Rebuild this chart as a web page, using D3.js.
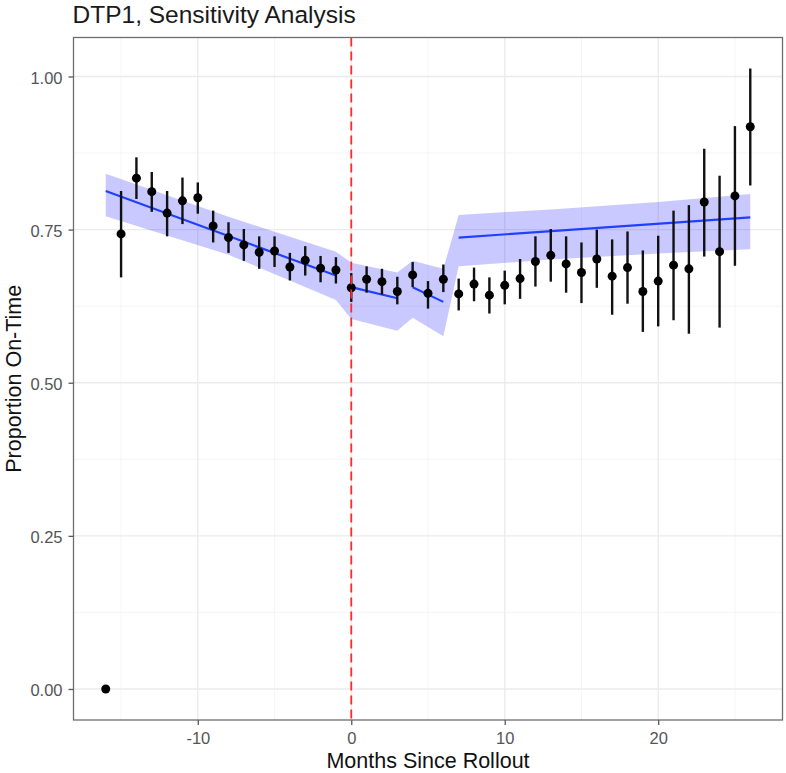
<!DOCTYPE html>
<html><head><meta charset="utf-8">
<script src="https://cdn.jsdelivr.net/npm/d3@7/dist/d3.min.js"></script>
<style>
body{margin:0;background:#fff}
svg{display:block}
text{font-family:"Liberation Sans",Arial,Helvetica,sans-serif}
</style>
</head><body>
<svg id="chart" width="786" height="773"></svg>
<script>
// ---- data ----
const months = [-16,-15,-14,-13,-12,-11,-10,-9,-8,-7,-6,-5,-4,-3,-2,-1,0,1,2,3,4,5,6,7,8,9,10,11,12,13,14,15,16,17,18,19,20,21,22,23,24,25,26];
const estimate = [0,0.743,0.834,0.812,0.777,0.797,0.802,0.756,0.737,0.725,0.713,0.715,0.689,0.700,0.687,0.684,0.655,0.669,0.665,0.649,0.676,0.646,0.669,0.645,0.661,0.643,0.659,0.670,0.698,0.708,0.694,0.680,0.702,0.674,0.688,0.649,0.666,0.692,0.686,0.795,0.714,0.805,0.918];
const lower = [0,0.672,0.800,0.779,0.739,0.759,0.776,0.729,0.712,0.699,0.686,0.689,0.667,0.675,0.664,0.662,0.632,0.647,0.644,0.628,0.656,0.621,0.648,0.618,0.633,0.613,0.628,0.637,0.657,0.665,0.647,0.630,0.655,0.611,0.629,0.583,0.592,0.602,0.580,0.706,0.590,0.691,0.822];
const upper = [0,0.813,0.868,0.844,0.813,0.835,0.827,0.781,0.762,0.751,0.739,0.739,0.712,0.723,0.707,0.705,0.679,0.690,0.686,0.673,0.697,0.666,0.693,0.670,0.688,0.672,0.683,0.702,0.739,0.751,0.739,0.729,0.750,0.734,0.747,0.716,0.740,0.781,0.790,0.882,0.838,0.919,1.013];

// fitted segments (start month, end month, start value, end value)
const fitSegments = [
  {x0:-16, x1:-1, y0:0.813, y1:0.675},
  {x0:0,   x1:3,  y0:0.656, y1:0.638},
  {x0:4,   x1:6,  y0:0.656, y1:0.632},
  {x0:7,   x1:26, y0:0.737, y1:0.770}
];
// confidence ribbon knots
const ribbonMonths = [-16,-8,-1,0,3,4,6,7,13,20,26];
const ribbonLow    = [0.772,0.709,0.635,0.604,0.585,0.606,0.576,0.690,0.701,0.711,0.718];
const ribbonHigh   = [0.841,0.771,0.714,0.696,0.680,0.699,0.686,0.774,0.783,0.795,0.808];

const xTicks = [-10,0,10,20];
const xTickLabels = ["-10","0","10","20"];
const xMinor = [-15,-5,5,15,25];
const yTicks = [0,0.25,0.5,0.75,1.0];
const yTickLabels = ["0.00","0.25","0.50","0.75","1.00"];
const yMinor = [0.125,0.375,0.625,0.875];
const rolloutMonth = 0;

const titleText = "DTP1, Sensitivity Analysis";
const xTitle = "Months Since Rollout";
const yTitle = "Proportion On-Time";

// ---- layout ----
const svg = d3.select("#chart");
const W = 786, H = 773;
const P = {left:73.5, right:782.5, top:37.5, bottom:720};

const xMin = d3.min(months), xMax = d3.max(months);
const xPad = (xMax - xMin) * 0.05;
const yMinV = Math.min(d3.min(lower), d3.min(estimate));
const yMaxV = Math.max(d3.max(upper), d3.max(ribbonHigh));
const yPad = (yMaxV - yMinV) * 0.05;

const x = d3.scaleLinear().domain([xMin - xPad, xMax + xPad]).range([P.left, P.right]);
const y = d3.scaleLinear().domain([yMinV - yPad, yMaxV + yPad]).range([P.bottom, P.top]);

svg.append("rect").attr("width", W).attr("height", H).attr("fill", "#fff");

const panel = svg.append("g");
panel.append("rect").attr("x", P.left).attr("y", P.top)
  .attr("width", P.right - P.left).attr("height", P.bottom - P.top).attr("fill", "#fff");

// grid
const grid = panel.append("g");
grid.selectAll(".xmin").data(xMinor).join("line")
  .attr("x1", d => x(d)).attr("x2", d => x(d)).attr("y1", P.top).attr("y2", P.bottom)
  .attr("stroke", "#f3f3f3").attr("stroke-width", 0.8);
grid.selectAll(".ymin").data(yMinor).join("line")
  .attr("y1", d => y(d)).attr("y2", d => y(d)).attr("x1", P.left).attr("x2", P.right)
  .attr("stroke", "#f3f3f3").attr("stroke-width", 0.8);
grid.selectAll(".xmaj").data(xTicks).join("line")
  .attr("x1", d => x(d)).attr("x2", d => x(d)).attr("y1", P.top).attr("y2", P.bottom)
  .attr("stroke", "#ebebeb").attr("stroke-width", 1.3);
grid.selectAll(".ymaj").data(yTicks).join("line")
  .attr("y1", d => y(d)).attr("y2", d => y(d)).attr("x1", P.left).attr("x2", P.right)
  .attr("stroke", "#ebebeb").attr("stroke-width", 1.3);

// ribbon
const ribbonData = ribbonMonths.map((m, i) => ({m, lo: ribbonLow[i], hi: ribbonHigh[i]}));
panel.append("path").datum(ribbonData)
  .attr("d", d3.area().x(d => x(d.m)).y0(d => y(d.lo)).y1(d => y(d.hi)))
  .attr("fill", "#0000ff").attr("fill-opacity", 0.21);

// fitted lines
panel.selectAll(".fit").data(fitSegments).join("line")
  .attr("x1", d => x(d.x0)).attr("x2", d => x(d.x1))
  .attr("y1", d => y(d.y0)).attr("y2", d => y(d.y1))
  .attr("stroke", "#2040ff").attr("stroke-width", 2.2);

// error bars & points
const pts = months.map((m, i) => ({m, v: estimate[i], lo: lower[i], hi: upper[i]}));
panel.selectAll(".eb").data(pts).join("line")
  .attr("x1", d => x(d.m)).attr("x2", d => x(d.m))
  .attr("y1", d => y(d.lo)).attr("y2", d => y(d.hi))
  .attr("stroke", "#111").attr("stroke-width", 2.4);
panel.selectAll(".pt").data(pts).join("circle")
  .attr("cx", d => x(d.m)).attr("cy", d => y(d.v)).attr("r", 4.5)
  .attr("fill", "#000");

// rollout line
panel.append("line")
  .attr("x1", x(rolloutMonth)).attr("x2", x(rolloutMonth))
  .attr("y1", P.top).attr("y2", P.bottom)
  .attr("stroke", "#ff2a2a").attr("stroke-width", 1.8).attr("stroke-dasharray", "9,5");

// border
svg.append("rect").attr("x", P.left).attr("y", P.top)
  .attr("width", P.right - P.left).attr("height", P.bottom - P.top)
  .attr("fill", "none").attr("stroke", "#6e6e6e").attr("stroke-width", 1.3);

// axes
const xAxis = svg.append("g").attr("transform", `translate(0,${P.bottom})`)
  .call(d3.axisBottom(x).tickValues(xTicks).tickSize(5).tickPadding(7)
    .tickFormat((d, i) => xTickLabels[i]));
const yAxis = svg.append("g").attr("transform", `translate(${P.left},0)`)
  .call(d3.axisLeft(y).tickValues(yTicks).tickSize(5).tickPadding(6)
    .tickFormat((d, i) => yTickLabels[i]));
[xAxis, yAxis].forEach(a => {
  a.select(".domain").remove();
  a.selectAll(".tick line").attr("stroke", "#5a5a5a").attr("stroke-width", 1.3);
  a.selectAll(".tick text").attr("fill", "#555").attr("font-size", "16.5px")
    .attr("font-family", "Liberation Sans, Arial, sans-serif");
});
yAxis.selectAll(".tick text").attr("dy", "0.42em");

// titles
svg.append("text").attr("x", P.left - 1).attr("y", 23)
  .attr("font-size", "24.5px").attr("fill", "#1a1a1a").text(titleText);
svg.append("text").attr("x", (P.left + P.right) / 2).attr("y", 768)
  .attr("text-anchor", "middle").attr("font-size", "21.5px").attr("fill", "#111").text(xTitle);
svg.append("text")
  .attr("transform", `translate(21,${(P.top + P.bottom) / 2}) rotate(-90)`)
  .attr("text-anchor", "middle").attr("font-size", "21.5px").attr("fill", "#111").text(yTitle);
</script>
</body></html>
